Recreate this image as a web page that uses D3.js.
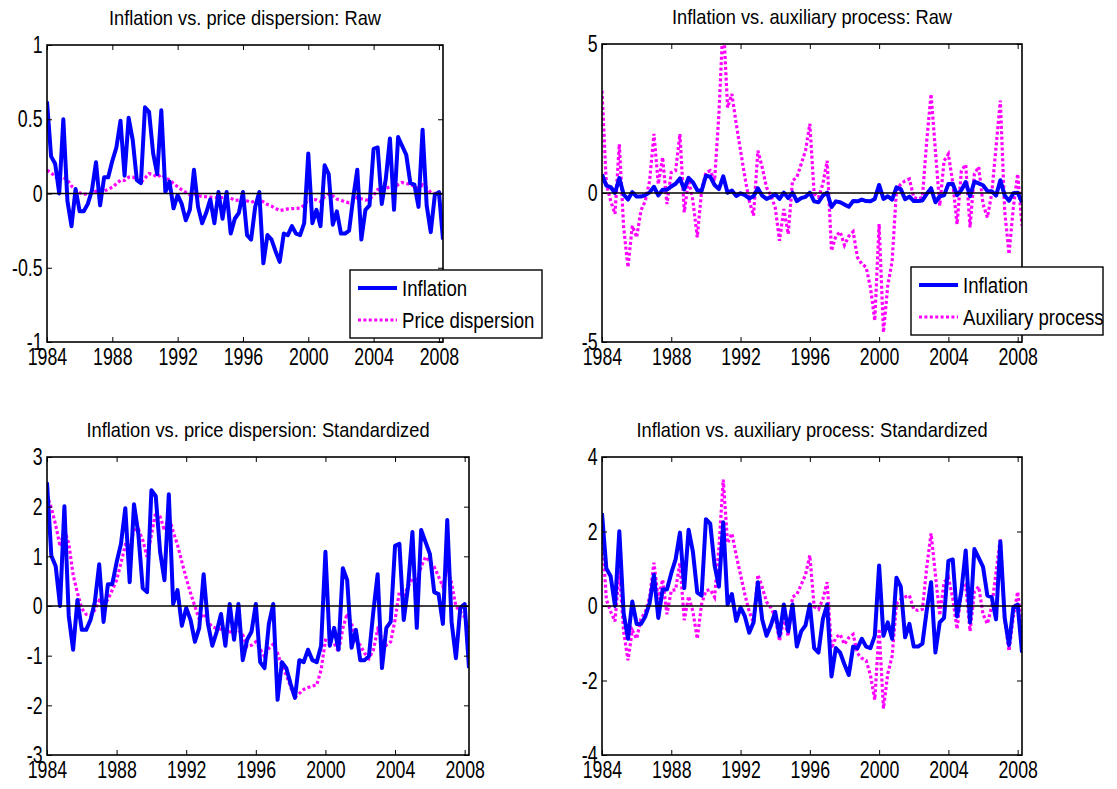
<!DOCTYPE html>
<html><head><meta charset="utf-8">
<script src="https://cdn.jsdelivr.net/npm/d3@7"></script>
<style>
body{margin:0;background:#fff}
svg{display:block}
text{font-family:"Liberation Sans",Arial,Helvetica,sans-serif;fill:#000}
</style>
</head><body>
<svg id="chart" width="1117" height="789"></svg>
<script>
// ---------------- data ----------------
const quarters = d3.range(98).map(i => 1984 + i * 0.25); // 1984Q1 .. 2008Q2
const xTickYears = [1984, 1988, 1992, 1996, 2000, 2004, 2008];

const inflationRaw = [
 0.62,0.25,0.20,0.00, 0.50,-0.05,-0.22,0.03, -0.12,-0.12,-0.07,0.02, 0.21,-0.08,0.11,0.11,
 0.22,0.31,0.49,0.12, 0.51,0.36,0.09,0.07, 0.58,0.55,0.27,0.13, 0.56,0.01,0.08,-0.10,
 -0.01,-0.07,-0.18,-0.11, 0.16,-0.09,-0.20,-0.13, -0.04,-0.20,0.01,-0.17, 0.01,-0.27,-0.17,-0.13,
 0.01,-0.28,-0.31,-0.09, 0.01,-0.47,-0.28,-0.31, -0.39,-0.46,-0.27,-0.28, -0.22,-0.27,-0.28,-0.20,
 0.27,-0.20,-0.11,-0.22, 0.19,0.13,-0.21,-0.12, -0.27,-0.27,-0.25,-0.03, 0.16,-0.31,-0.11,-0.08,
 0.30,0.31,-0.07,0.10, 0.37,-0.11,0.38,0.32, 0.26,0.07,0.06,-0.09, 0.43,-0.08,-0.26,-0.01,
 0.01,-0.31];

const dispersionRaw = [
 0.157,0.139,0.116,0.088, 0.110,0.092,0.050,0.025, 0.004,-0.004,-0.005,0.002, 0.015,0.010,0.016,0.029,
 0.042,0.065,0.090,0.088, 0.110,0.111,0.096,0.074, 0.103,0.134,0.128,0.109, 0.128,0.108,0.090,0.067,
 0.045,0.025,0.007,-0.010, -0.002,-0.014,-0.020,-0.022, -0.024,-0.027,-0.027,-0.027, -0.024,-0.031,-0.047,-0.045,
 -0.040,-0.050,-0.060,-0.049, -0.044,-0.056,-0.074,-0.085, -0.101,-0.115,-0.110,-0.104, -0.102,-0.100,-0.098,-0.078,
 -0.038,-0.040,-0.042,-0.054, -0.022,-0.002,-0.016,-0.038, -0.045,-0.056,-0.063,-0.052, -0.024,-0.036,-0.045,-0.040,
 -0.011,0.027,0.020,0.034, 0.045,0.040,0.060,0.074, 0.067,0.060,0.047,0.034, 0.058,0.038,0.007,0.000,
 -0.007,-0.027];

const auxiliaryRaw = [
 3.43,0.30,-0.26,-0.70, 1.64,-1.15,-2.49,-1.10, -1.49,-0.59,-0.26,0.41, 1.98,0.30,1.20,-0.37,
 0.69,0.75,1.98,-0.65, 0.45,-0.26,-1.49,0.08, 0.69,0.75,0.41,2.65, 5.80,2.87,3.32,2.32,
 1.42,0.53,-0.26,-0.76, 1.42,0.86,0.19,-0.09, -0.48,-1.60,-0.54,-1.38, 0.41,0.53,0.97,1.42,
 2.32,-0.03,-0.15,0.30, 1.08,-1.94,-1.45,-1.30, -1.75,-1.45,-1.30,-2.16, -2.38,-2.49,-3.17,-4.28,
 -1.04,-4.68,-3.10,-2.30, 0.08,0.30,0.41,0.47, -0.15,-0.20,-0.15,1.76, 3.32,1.42,-0.43,1.08,
 1.31,0.35,-1.05,0.75, 0.95,-1.15,0.64,0.88, -0.37,-0.82,-0.03,1.53, 3.10,-0.60,-2.05,-0.48,
 0.64,-1.10];

const inflationStd = [
 2.49,1.01,0.80,0.00, 2.01,-0.20,-0.88,0.12, -0.48,-0.48,-0.28,0.08, 0.84,-0.32,0.44,0.44,
 0.88,1.25,1.97,0.48, 2.05,1.45,0.36,0.28, 2.33,2.21,1.09,0.52, 2.25,0.04,0.32,-0.40,
 -0.04,-0.28,-0.72,-0.44, 0.64,-0.36,-0.80,-0.52, -0.16,-0.80,0.04,-0.68, 0.04,-1.09,-0.68,-0.52,
 0.04,-1.13,-1.25,-0.36, 0.04,-1.89,-1.13,-1.25, -1.57,-1.85,-1.09,-1.13, -0.88,-1.09,-1.13,-0.80,
 1.09,-0.80,-0.44,-0.88, 0.76,0.52,-0.84,-0.48, -1.09,-1.09,-1.01,-0.12, 0.64,-1.25,-0.44,-0.32,
 1.21,1.25,-0.28,0.40, 1.49,-0.44,1.53,1.29, 1.05,0.28,0.24,-0.36, 1.73,-0.32,-1.05,-0.04,
 0.04,-1.25];

const dispersionStd = [
 2.24,1.97,1.63,1.20, 1.53,1.26,0.63,0.26, -0.05,-0.17,-0.19,-0.08, 0.11,0.04,0.13,0.32,
 0.52,0.86,1.23,1.20, 1.53,1.55,1.33,0.99, 1.43,1.90,1.80,1.52, 1.80,1.50,1.23,0.89,
 0.56,0.26,-0.01,-0.27, -0.15,-0.32,-0.42,-0.45, -0.47,-0.52,-0.52,-0.52, -0.48,-0.58,-0.82,-0.79,
 -0.72,-0.87,-1.02,-0.85, -0.77,-0.95,-1.22,-1.39, -1.63,-1.84,-1.76,-1.68, -1.64,-1.61,-1.59,-1.29,
 -0.69,-0.72,-0.75,-0.92, -0.45,-0.15,-0.35,-0.69, -0.79,-0.95,-1.06,-0.89, -0.48,-0.65,-0.79,-0.72,
 -0.28,0.29,0.19,0.39, 0.56,0.49,0.79,0.99, 0.89,0.79,0.59,0.39, 0.76,0.46,-0.01,-0.11,
 -0.22,-0.52];

const auxiliaryStd = [
 2.02,0.18,-0.15,-0.41, 0.96,-0.68,-1.46,-0.65, -0.88,-0.35,-0.15,0.24, 1.16,0.18,0.71,-0.22,
 0.41,0.44,1.16,-0.38, 0.26,-0.15,-0.88,0.05, 0.41,0.44,0.24,1.56, 3.39,1.69,1.95,1.36,
 0.84,0.31,-0.15,-0.45, 0.84,0.51,0.11,-0.05, -0.28,-0.94,-0.32,-0.81, 0.24,0.31,0.57,0.84,
 1.36,-0.02,-0.09,0.18, 0.64,-1.14,-0.85,-0.76, -1.03,-0.85,-0.76,-1.27, -1.40,-1.46,-1.86,-2.52,
 -0.61,-2.75,-1.82,-1.35, 0.05,0.18,0.24,0.28, -0.09,-0.12,-0.09,1.04, 1.95,0.84,-0.25,0.64,
 0.77,0.21,-0.62,0.44, 0.56,-0.68,0.38,0.52, -0.22,-0.48,-0.02,0.90, 1.82,-0.35,-1.21,-0.28,
 0.38,-0.65];

const titles = [
 "Inflation vs. price dispersion: Raw",
 "Inflation vs. auxiliary process: Raw",
 "Inflation vs. price dispersion: Standardized",
 "Inflation vs. auxiliary process: Standardized"];
const yTicksA = [-1, -0.5, 0, 0.5, 1];
const yTicksB = [-5, 0, 5];
const yTicksC = [-3, -2, -1, 0, 1, 2, 3];
const yTicksD = [-4, -2, 0, 2, 4];
const legendLabels = [["Inflation", "Price dispersion"], ["Inflation", "Auxiliary process"]];

// ---------------- layout ----------------
const panels = [
 {x0:47,  x1:443,  y0:45,  y1:342, yDom:[-1,1], yTicks:yTicksA, title:titles[0], a:inflationRaw, b:dispersionRaw,
  legend:{x:350, y:270, w:192, h:68, labels:legendLabels[0]}},
 {x0:602, x1:1022, y0:44,  y1:342, yDom:[-5,5], yTicks:yTicksB, title:titles[1], a:inflationRaw, b:auxiliaryRaw,
  legend:{x:911, y:267, w:192, h:68, labels:legendLabels[1]}},
 {x0:47,  x1:469,  y0:457, y1:755, yDom:[-3,3], yTicks:yTicksC, title:titles[2], a:inflationStd, b:dispersionStd},
 {x0:602, x1:1022, y0:457, y1:755, yDom:[-4,4], yTicks:yTicksD, title:titles[3], a:inflationStd, b:auxiliaryStd}
];

const BLUE = "#0000ff", MAG = "#ff00ff";
const TICK_FS = 24, TICK_SX = 0.74;
const svg = d3.select("#chart");

panels.forEach((p, i) => {
  const x = d3.scaleLinear().domain([1984, 2008.25]).range([p.x0, p.x1]);
  const y = d3.scaleLinear().domain(p.yDom).range([p.y1, p.y0]);
  const g = svg.append("g");

  const clipId = "clip" + i;
  svg.append("clipPath").attr("id", clipId).append("rect")
    .attr("x", p.x0).attr("y", p.y0).attr("width", p.x1 - p.x0).attr("height", p.y1 - p.y0);

  const line = d3.line().x((d, k) => x(quarters[k])).y(d => y(d));

  const plot = g.append("g").attr("clip-path", `url(#${clipId})`);
  plot.append("path").datum(p.b).attr("d", line)
    .attr("fill", "none").attr("stroke", MAG).attr("stroke-width", 3.2)
    .attr("stroke-dasharray", "3,2.4");
  plot.append("path").datum(p.a).attr("d", line)
    .attr("fill", "none").attr("stroke", BLUE).attr("stroke-width", 4)
    .attr("stroke-linejoin", "round");
  // zero reference line
  plot.append("line").attr("x1", p.x0).attr("x2", p.x1)
    .attr("y1", y(0)).attr("y2", y(0)).attr("stroke", "#000").attr("stroke-width", 1.4);

  // axes (ticks inside, all four sides)
  const fmtY = d => String(d);
  const bottom = g.append("g").attr("transform", `translate(0,${p.y1})`)
    .call(d3.axisBottom(x).tickValues(xTickYears).tickSize(-5).tickPadding(5.5).tickFormat(d3.format("d")));
  const top = g.append("g").attr("transform", `translate(0,${p.y0})`)
    .call(d3.axisTop(x).tickValues(xTickYears).tickSize(-5).tickFormat(""));
  const left = g.append("g").attr("transform", `translate(${p.x0},0)`)
    .call(d3.axisLeft(y).tickValues(p.yTicks).tickSize(-5).tickPadding(6).tickFormat(fmtY));
  const right = g.append("g").attr("transform", `translate(${p.x1},0)`)
    .call(d3.axisRight(y).tickValues(p.yTicks).tickSize(-5).tickFormat(""));
  [bottom, top, left, right].forEach(ax => {
    ax.select(".domain").remove();
    ax.selectAll(".tick line").attr("stroke", "#000").attr("stroke-width", 1);
    ax.attr("font-family", null).attr("font-size", null);
  });
  bottom.selectAll(".tick text").attr("font-size", TICK_FS).attr("transform", `scale(${TICK_SX},1)`);
  left.selectAll(".tick text").attr("font-size", TICK_FS).attr("transform", `scale(${TICK_SX},1)`);

  // frame
  g.append("rect").attr("x", p.x0).attr("y", p.y0).attr("width", p.x1 - p.x0).attr("height", p.y1 - p.y0)
    .attr("fill", "none").attr("stroke", "#000").attr("stroke-width", 1.6);

  // title
  g.append("text").attr("text-anchor", "middle").attr("font-size", 21)
    .attr("transform", `translate(${(p.x0 + p.x1) / 2},${p.y0 - 20}) scale(0.87,1)`)
    .text(p.title);

  // legend
  if (p.legend) {
    const L = p.legend;
    const lg = g.append("g");
    lg.append("rect").attr("x", L.x).attr("y", L.y).attr("width", L.w).attr("height", L.h)
      .attr("fill", "#fff").attr("stroke", "#000").attr("stroke-width", 1.4);
    const rows = [{c: BLUE, w: 4, dash: null, label: L.labels[0], yy: L.y + 18},
                  {c: MAG, w: 3.2, dash: "3,2.4", label: L.labels[1], yy: L.y + 50}];
    rows.forEach(r => {
      lg.append("line").attr("x1", L.x + 8).attr("x2", L.x + 47).attr("y1", r.yy).attr("y2", r.yy)
        .attr("stroke", r.c).attr("stroke-width", r.w).attr("stroke-dasharray", r.dash);
      lg.append("text").attr("font-size", 23)
        .attr("transform", `translate(${L.x + 52},${r.yy + 8}) scale(0.81,1)`)
        .text(r.label);
    });
  }
});
</script>
</body></html>
